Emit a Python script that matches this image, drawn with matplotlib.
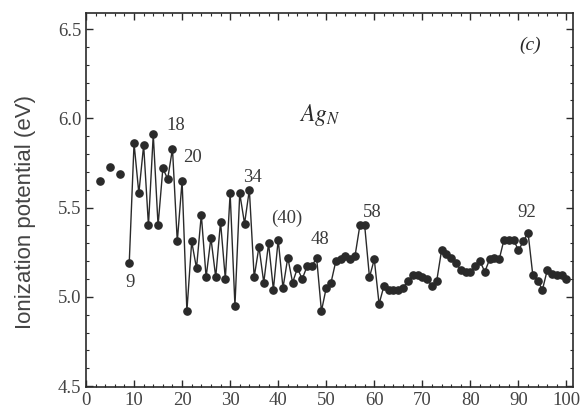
import matplotlib.pyplot as plt
from matplotlib.ticker import MultipleLocator

# isolated small clusters (not connected)
n_small = [3, 5, 7]
ip_small = [5.65, 5.73, 5.69]

# connected series N = 9 .. 100
n_main = list(range(9, 101))
ip_main = [
    5.19, 5.86, 5.58, 5.85, 5.40, 5.91, 5.40, 5.72, 5.66, 5.83,   # 9-18
    5.31, 5.65, 4.92, 5.31, 5.16, 5.46, 5.11, 5.33, 5.11, 5.42,   # 19-28
    5.10, 5.58, 4.95, 5.58, 5.41, 5.60, 5.11, 5.28, 5.08, 5.30,   # 29-38
    5.04, 5.32, 5.05, 5.22, 5.08, 5.16, 5.10, 5.17, 5.17, 5.22,   # 39-48
    4.92, 5.05, 5.08, 5.20, 5.21, 5.23, 5.21, 5.23, 5.40, 5.40,   # 49-58
    5.11, 5.21, 4.96, 5.06, 5.04, 5.04, 5.04, 5.05, 5.09, 5.12,   # 59-68
    5.12, 5.11, 5.10, 5.06, 5.09, 5.26, 5.24, 5.22, 5.19, 5.15,   # 69-78
    5.14, 5.14, 5.17, 5.20, 5.14, 5.21, 5.22, 5.21, 5.32, 5.32,   # 79-88
    5.32, 5.26, 5.31, 5.36, 5.12, 5.09, 5.04, 5.15, 5.13, 5.12,   # 89-98
    5.12, 5.10,                                                   # 99-100
]

# magic-number labels
label_text = ['9', '18', '20', '34', '(40)', '48', '58', '92']
label_x = [9.1, 18.7, 22.2, 34.7, 41.8, 48.7, 59.5, 91.7]
label_y = [5.08, 5.96, 5.78, 5.67, 5.44, 5.32, 5.47, 5.47]

ink = '#2a2a2a'
serif = ['Liberation Serif', 'DejaVu Serif']

fig = plt.figure(figsize=(5.85, 4.19), dpi=100)
ax = fig.add_axes([0.147, 0.076, 0.832, 0.893])

ax.plot(n_main, ip_main, color=ink, linewidth=1.0, marker='o',
        markersize=5.2, markerfacecolor=ink, markeredgecolor=ink)
ax.plot(n_small, ip_small, linestyle='none', marker='o',
        markersize=5.2, color=ink)

for t, x, y in zip(label_text, label_x, label_y):
    ax.text(x, y, t, ha='center', va='center', fontsize=13.5,
            family=serif, color='#3a3a3a')

ax.text(48.7, 6.02, r'$Ag_N$', ha='center', va='center', fontsize=17,
        color=ink, math_fontfamily='stix')
ax.text(92.4, 6.41, '(c)', ha='center', va='center', fontsize=14,
        family=serif, style='italic', color=ink)

ax.set_xlim(0, 101.3)
ax.set_ylim(4.494, 6.59)
ax.xaxis.set_major_locator(MultipleLocator(10))
ax.xaxis.set_minor_locator(MultipleLocator(2))
ax.yaxis.set_major_locator(MultipleLocator(0.5))
ax.yaxis.set_minor_locator(MultipleLocator(0.1))
ax.yaxis.set_major_formatter(plt.FuncFormatter(lambda v, p: f'{v:.1f}'))

ax.tick_params(which='both', direction='in', top=True, right=True,
               colors=ink, labelcolor='#444444')
ax.tick_params(which='major', length=5, width=1)
ax.tick_params(which='minor', length=2.5, width=0.8)
for lab in ax.get_xticklabels() + ax.get_yticklabels():
    lab.set_family(serif)
    lab.set_fontsize(13.5)
for s in ax.spines.values():
    s.set_color(ink)
    s.set_linewidth(1.2)

ax.set_ylabel('Ionization potential (eV)', fontsize=16,
              family=['Liberation Sans', 'DejaVu Sans'], color='#444444')
ax.yaxis.set_label_coords(-0.103, 0.468)

fig.savefig('out.png', dpi=100)
